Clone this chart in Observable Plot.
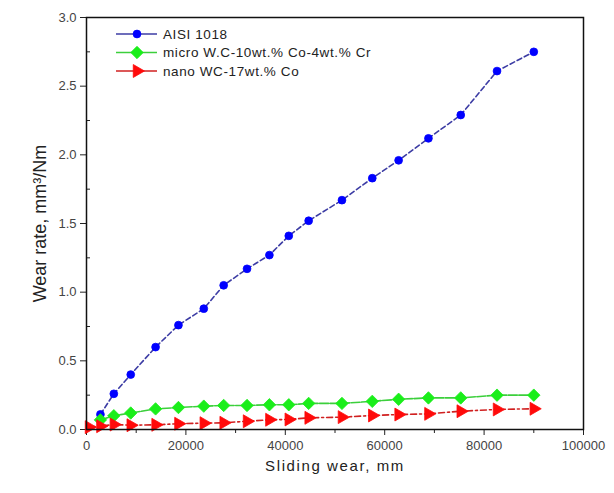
<!DOCTYPE html>
<html>
<head>
<meta charset="utf-8">
<script src="https://cdn.jsdelivr.net/npm/d3@7"></script>
<script src="https://cdn.jsdelivr.net/npm/@observablehq/plot@0.6"></script>
<style>
  html, body { margin: 0; padding: 0; background: #fff; }
  #wrap { position: relative; width: 614px; height: 493px; }
  #legend { position: absolute; left: 0; top: 0; pointer-events: none; }
</style>
</head>
<body>
<div id="wrap"></div>
<script>
// Sliding distance (mm) at which each wear rate was measured
const slidingWear = [2800, 5500, 8900, 13900, 18500, 23600, 27600, 32300, 36800, 40700, 44700, 51400, 57500, 62800, 68800, 75300, 82600, 90000];

// Wear rate, mm³/Nm
const aisi1018 = [0.11, 0.26, 0.40, 0.60, 0.76, 0.88, 1.05, 1.17, 1.27, 1.41, 1.52, 1.67, 1.83, 1.96, 2.12, 2.29, 2.61, 2.75];
const microWC = [0.07, 0.10, 0.12, 0.15, 0.16, 0.17, 0.175, 0.175, 0.18, 0.18, 0.19, 0.19, 0.205, 0.22, 0.23, 0.23, 0.25, 0.25];
const nanoWCx = [500, ...slidingWear];
const nanoWC = [0.017, 0.024, 0.036, 0.031, 0.034, 0.042, 0.046, 0.049, 0.06, 0.071, 0.073, 0.085, 0.09, 0.102, 0.109, 0.114, 0.133, 0.146, 0.151];

const seriesNames = ["AISI 1018", "micro W.C-10wt.% Co-4wt.% Cr", "nano WC-17wt.% Co"];
const xTicks = [0, 20000, 40000, 60000, 80000, 100000];
const xMinorTicks = [10000, 30000, 50000, 70000, 90000];
const yTicks = [0, 0.5, 1.0, 1.5, 2.0, 2.5, 3.0];
const yMinorTicks = [0.25, 0.75, 1.25, 1.75, 2.25, 2.75];
const xTitle = "Sliding wear, mm";
const yTitle = "Wear rate, mm³/Nm";

const rows = (xs, ys) => xs.map((x, i) => ({x, y: ys[i]}));
const steel = rows(slidingWear, aisi1018);
const micro = rows(slidingWear, microWC);
const nano = rows(nanoWCx, nanoWC);

const styles = [
  {line: "#3c3ca4", dash: "5,3", fill: "#0000ff", symbol: "circle", r: 3.9, rotate: 0},
  {line: "#3ccf3c", dash: "9,1.5", fill: "#1aee1a", symbol: "diamond2", r: 5.6, rotate: 0},
  {line: "#d02020", dash: "6,3,2,3", fill: "#ff0a0a", symbol: "triangle", r: 4.8, rotate: 90}
];

const chart = Plot.plot({
  width: 614,
  height: 493,
  marginLeft: 86,
  marginRight: 31,
  marginTop: 17,
  marginBottom: 64,
  style: {fontFamily: "'Liberation Sans', Arial, sans-serif", fontSize: "13px", color: "#444", background: "#fff"},
  x: {domain: [0, 100000]},
  y: {domain: [0, 3]},
  marks: [
    Plot.axisX({ticks: xTicks, tickSize: 6, tickPadding: 5, tickFormat: d => String(d), label: null, stroke: "#222"}),
    Plot.axisX({ticks: xMinorTicks, tickSize: 4, text: null, label: null, stroke: "#222"}),
    Plot.axisY({ticks: yTicks, tickSize: 6, tickPadding: 4, tickFormat: d3.format(".1f"), label: null, stroke: "#222"}),
    Plot.axisY({ticks: yMinorTicks, tickSize: 4, dx: 4, text: null, label: null, stroke: "#222"}),
    ...[steel, micro, nano].flatMap((data, i) => [
      Plot.line(data, {x: "x", y: "y", stroke: styles[i].line, strokeWidth: 1.6, strokeDasharray: styles[i].dash}),
      Plot.dot(data, {x: "x", y: "y", symbol: styles[i].symbol, r: styles[i].r, rotate: styles[i].rotate,
        fill: styles[i].fill, stroke: styles[i].fill, strokeWidth: 0.8})
    ]),
    Plot.frame({stroke: "#111", strokeWidth: 1.5}),
    Plot.text([yTitle], {frameAnchor: "left", textAnchor: "middle", dx: -46, rotate: -90, fontSize: 18, fill: "#222", text: d => d}),
    Plot.text([xTitle], {frameAnchor: "bottom", textAnchor: "middle", dy: 41, fontSize: 15, fill: "#222", text: d => d})
  ]
});

d3.select(chart).selectAll("text").filter(function () { return this.textContent === xTitle; })
  .style("letter-spacing", "1.6px");

const wrap = document.getElementById("wrap");
wrap.appendChild(chart);

// Legend in the upper-left corner of the plot area
const legend = d3.select(wrap).append("svg")
  .attr("id", "legend").attr("width", 614).attr("height", 100);
const sym = {circle: d3.symbolCircle, diamond2: d3.symbolDiamond2, triangle: d3.symbolTriangle};
seriesNames.forEach((name, i) => {
  const s = styles[i];
  const g = legend.append("g").attr("transform", `translate(0,${34 + i * 18.5})`);
  g.append("line").attr("x1", 116).attr("x2", 157).attr("y1", 0).attr("y2", 0)
    .attr("stroke", s.line).attr("stroke-width", 1.6);
  g.append("path").attr("transform", `translate(137,0) rotate(${s.rotate})`)
    .attr("d", d3.symbol(sym[s.symbol], Math.PI * s.r * s.r)())
    .attr("fill", s.fill).attr("stroke", s.fill).attr("stroke-width", 0.8);
  g.append("text").attr("x", 163).attr("y", 0).attr("dy", "0.35em")
    .attr("font-family", "'Liberation Sans', Arial, sans-serif").attr("font-size", 13.5)
    .attr("letter-spacing", "0.6px").attr("fill", "#222").text(name);
});
</script>
</body>
</html>
